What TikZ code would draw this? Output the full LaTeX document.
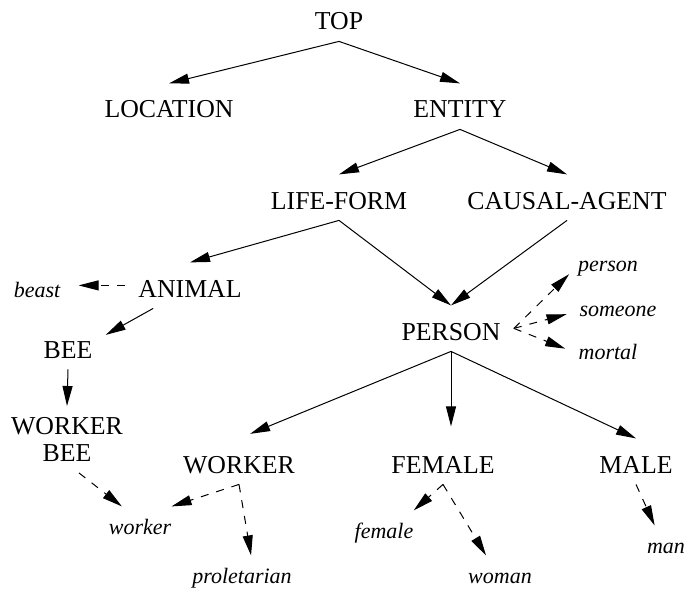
\documentclass[tikz,border=0pt]{standalone}
\usepackage{fontspec}
\setmainfont{Liberation Serif}
\usepackage{tikz}
\usetikzlibrary{arrows.meta}

\begin{document}
\begin{tikzpicture}[x=0.5pt, y=-0.5pt,
        conceptbox/.style={font=\fontsize{12.9}{13.5}\selectfont, inner xsep=6.5pt, inner ysep=5.5pt},
        concept/.style={conceptbox, text height=11.6pt, text depth=0pt, anchor=base},
        word/.style={font=\fontsize{11}{13}\selectfont\itshape, inner xsep=0pt, inner ysep=6pt,
            text height=7.6pt, text depth=2.4pt, anchor=base},
        isa/.style={-{Triangle[length=10pt, width=5pt]}, line width=0.5pt},
        lex/.style={isa, dash pattern=on 4pt off 4pt}]
        % Fix the size of the picture
        \useasboundingbox (0,0) rectangle (688,588);

        % Concept nodes
        \node[concept] (top) at (339,30) {TOP};
        \node[concept] (location) at (169,118) {LOCATION};
        \node[concept] (entity) at (460,118) {ENTITY};
        \node[concept] (lifeform) at (339,209) {LIFE-FORM};
        \node[concept] (causal) at (567,209) {CAUSAL-AGENT};
        \node[concept] (animal) at (190,297) {ANIMAL};
        \node[concept] (person) at (451,340) {PERSON};
        \node[concept] (bee) at (68,358) {BEE};
        \node[conceptbox, align=center, anchor=north] (workerbee) at (67,406) {WORKER\\BEE};
        \node[concept] (worker) at (239,473) {WORKER};
        \node[concept] (female) at (443,473) {FEMALE};
        \node[concept] (male) at (636,473) {MALE};

        % Word nodes
        \node[word] (wbeast) at (37,297) {beast};
        \node[word] (wperson) at (608,271) {person};
        \node[word] (wsomeone) at (618,316) {someone};
        \node[word] (wmortal) at (608,359) {mortal};
        \node[word] (wworker) at (140,534) {worker};
        \node[word] (wproletarian) at (242,583) {proletarian};
        \node[word] (wfemale) at (384,538) {female};
        \node[word] (wwoman) at (500,583) {woman};
        \node[word] (wman) at (666,553) {man};

        % Hypernym links
        \draw[isa] (top.south) -- (location.north);
        \draw[isa] (top.south) -- (entity.north);
        \draw[isa] (entity.south) -- (lifeform.north);
        \draw[isa] (entity.south) -- (causal.north);
        \draw[isa] (lifeform.south) -- (animal.north);
        \draw[isa] (lifeform.south) -- (person.north);
        \draw[isa] (causal.south) -- (person.north);
        \draw[isa] (animal.212) -- (bee.17);
        \draw[isa] (bee.south) -- (workerbee.north);
        \draw[isa, shorten >=6pt] (person.south) -- (worker.north);
        \draw[isa, shorten >=6pt] (person.south) -- (person.south |- female.north);
        \draw[isa] (person.south) -- (male.north);

        % Lexical links
        \draw[lex, shorten >=9pt] (animal.west) -- (animal.west -| wbeast.east);
        \draw[lex, shorten >=6pt] (person.east) -- (wperson.west);
        \draw[lex, shorten >=6.5pt] (person.east) -- (wsomeone.west);
        \draw[lex, shorten >=7pt] (person.east) -- (wmortal.west);
        \draw[lex] ([xshift=6pt]workerbee.south) -- (wworker.129);
        \draw[lex] (worker.south) -- (wworker.north east);
        \draw[lex] (worker.south) -- (wproletarian.68);
        \draw[lex] (female.south) -- (wfemale.north east);
        \draw[lex] (female.south) -- (wwoman.122);
        \draw[lex] (male.south) -- (wman.117);
    \end{tikzpicture}
\end{document}
